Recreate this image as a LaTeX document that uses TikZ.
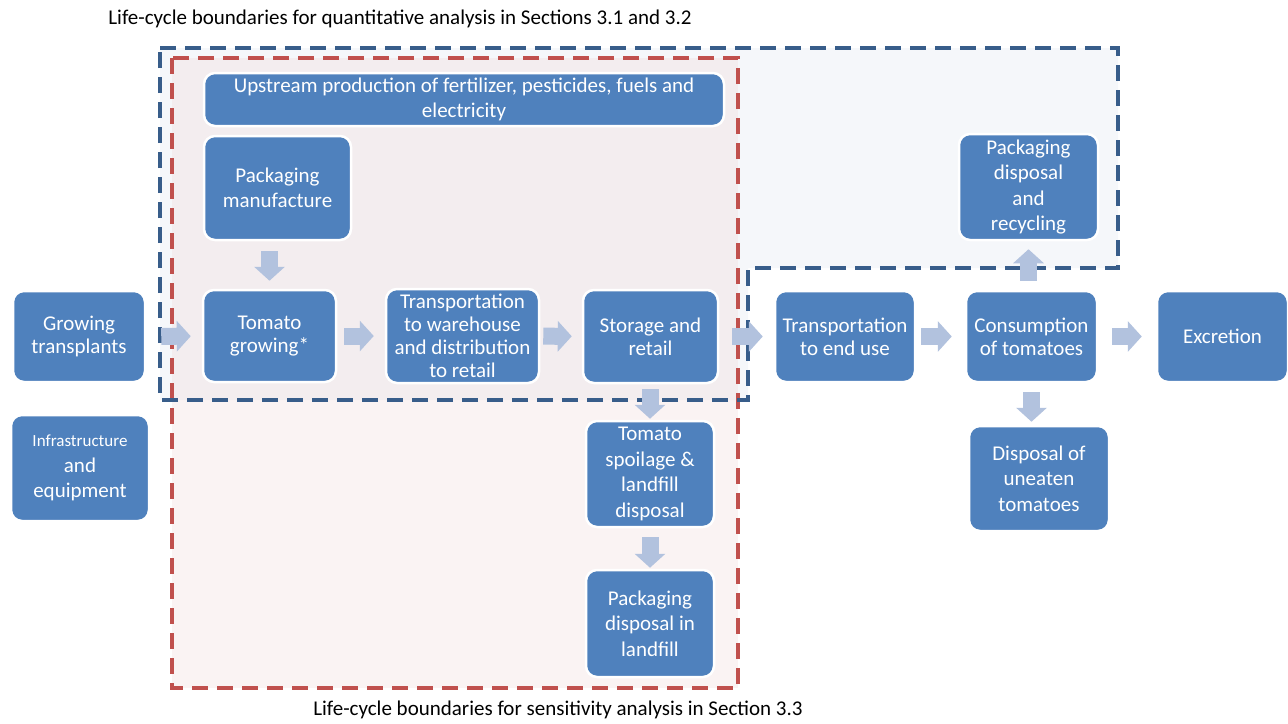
\documentclass[tikz,border=0pt]{standalone}
\usepackage{fontspec}
\setmainfont{Carlito}
\usetikzlibrary{arrows.meta}

\definecolor{boxblue}{RGB}{79,129,189}
\definecolor{flowblue}{RGB}{178,194,222}
\definecolor{lineblue}{RGB}{56,93,138}
\definecolor{linered}{RGB}{192,80,77}
\definecolor{zoneblue}{RGB}{245,247,250}
\definecolor{zonered}{RGB}{240,220,220}

\begin{document}
\begin{tikzpicture}[x=1pt,y=-1pt,
    box/.style={rectangle, rounded corners=11pt, fill=boxblue, draw=white,
        line width=2.5pt, text=white, align=center, inner sep=2pt,
        font=\fontsize{21}{25.5}\selectfont},
    tight/.style={font=\fontsize{21}{23}\selectfont},
    flow/.style={draw=flowblue, line width=17pt,
        -{Triangle[length=14pt,width=30pt]}},
    boundary/.style={line width=3.5pt, dash pattern=on 16pt off 9pt}]
    \useasboundingbox (0,0) rectangle (1288,723);

    % Boundary zones
    \fill[zoneblue] (160,48) -- (1118,48) -- (1118,268) -- (748,268)
        -- (748,400) -- (160,400) -- cycle;
    \fill[zonered, fill opacity=0.35] (172,58) rectangle (738,688);
    \draw[boundary, linered] (172,58) rectangle (738,688);
    \draw[boundary, lineblue] (160,48) -- (1118,48) -- (1118,268) -- (748,268)
        -- (748,400) -- (160,400) -- cycle;

    % Boundary labels
    \node[font=\fontsize{21}{24}\selectfont] (qlabel) at (400,19)
        {Life-cycle boundaries for quantitative analysis in Sections 3.1 and 3.2};
    \node[font=\fontsize{21}{24}\selectfont] (slabel) at (558,710)
        {Life-cycle boundaries for sensitivity analysis in Section 3.3};

    % Process boxes
    \node[box, tight, minimum width=132pt, minimum height=91pt] (gt) at (79,336.5)
        {Growing\\transplants};
    \node[box, minimum width=138pt, minimum height=106pt] (inf) at (80,468)
        {{\fontsize{17}{25.5}\selectfont Infrastructure}\\and\\equipment};
    \node[box, minimum width=520pt, minimum height=53pt] (up) at (464,99.5)
        {Upstream production of fertilizer, pesticides, fuels and\\electricity};
    \node[box, minimum width=147pt, minimum height=104pt] (pm) at (277.5,188)
        {Packaging\\manufacture};
    \node[box, tight, minimum width=133pt, minimum height=92pt] (tg) at (269.5,336)
        {Tomato\\growing*};
    \node[box, tight, minimum width=153pt, minimum height=94pt] (tw) at (462.5,336)
        {Transportation\\to warehouse\\and distribution\\to retail};
    \node[box, tight, minimum width=135pt, minimum height=93pt] (sr) at (650.5,336.5)
        {Storage and\\retail};
    \node[box, minimum width=128pt, minimum height=106pt] (ts) at (650,474)
        {Tomato\\spoilage \&\\landfill\\disposal};
    \node[box, minimum width=128pt, minimum height=107pt] (pl) at (650,623.5)
        {Packaging\\disposal in\\landfill};
    \node[box, tight, minimum width=140pt, minimum height=91pt] (te) at (845,336.5)
        {Transportation\\to end use};
    \node[box, tight, minimum width=131pt, minimum height=91pt] (co) at (1031.5,336.5)
        {Consumption\\of tomatoes};
    \node[box, minimum width=131pt, minimum height=91pt] (ex) at (1222.5,336.5)
        {Excretion};
    \node[box, minimum width=139pt, minimum height=106pt] (pr) at (1028.5,187)
        {Packaging\\disposal\\and\\recycling};
    \node[box, minimum width=140pt, minimum height=105pt] (du) at (1039,478.5)
        {Disposal of\\uneaten\\tomatoes};

    % Flow arrows along the chain
    \foreach \a/\b/\s/\e in {gt/tg/15/11, tg/tw/7/11, tw/sr/3/10,
                             sr/te/13/11, te/co/5/13, co/ex/14/14} {
        \draw[flow, shorten <=\s pt, shorten >=\e pt] (\a) -- (\b);
    }

    % Side arrows
    \draw[flow, shorten <=10pt, shorten >=8pt] (pm.south -| tg.north) -- (tg.north);
    \draw[flow, shorten <=5pt, shorten >=1pt] (sr.south -| ts.north) -- (ts.north);
    \draw[flow, shorten <=9pt, shorten >=1pt] (ts) -- (pl);
    \draw[flow, shorten <=9pt, shorten >=8pt] (co.north -| pr.south) -- (pr.south);
    \draw[flow, shorten <=9pt, shorten >=3pt] (co.south) -- (co.south |- du.north);
\end{tikzpicture}
\end{document}
